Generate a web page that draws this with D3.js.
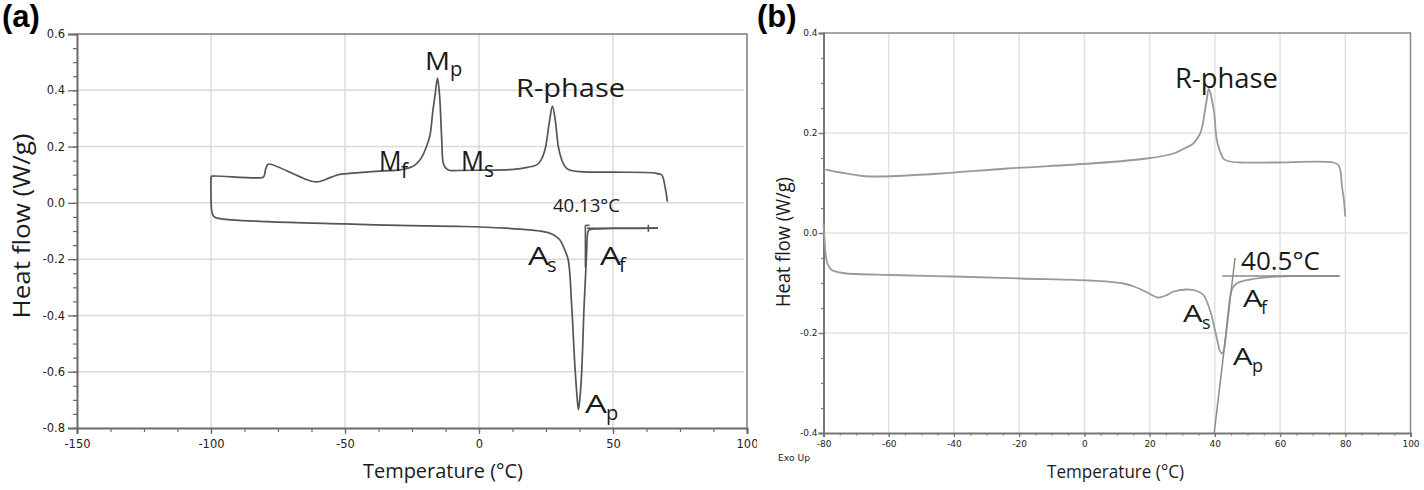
<!DOCTYPE html>
<html><head><meta charset="utf-8">
<script src="https://cdn.jsdelivr.net/npm/d3@7"></script>
<style>body{margin:0;background:#fff;} svg{display:block;}</style>
</head><body><svg id="c" width="1424" height="490"></svg>
<script>
// ---------- DATA ----------
// Panel (a): cooling run (upper curve), from 70 °C down to -100 °C
const aCoolT  = [70.3, 69.4, 68.2, 66.5, 65, 50, 37.7, 33.5, 32.1, 30.8, 29.6, 28.5, 27.4, 26.3, 24.6, 23, 21.5, 18, 12.8, 0.4, -8, -10.8, -12.2, -13.3, -13.9, -14.7, -15.5, -16.3, -17.3, -18.3, -20.1, -21.5, -23.2, -25, -29.5, -37, -51.9, -53.5, -57, -60, -62, -65, -78.3, -79, -79.6, -80.2, -80.8, -99.5, -100];
const aCoolHF = [0.004, 0.058, 0.099, 0.104, 0.107, 0.109, 0.111, 0.118, 0.129, 0.155, 0.2, 0.29, 0.344, 0.29, 0.188, 0.15, 0.135, 0.126, 0.119, 0.116, 0.115, 0.115, 0.122, 0.14, 0.223, 0.38, 0.443, 0.39, 0.32, 0.24, 0.188, 0.16, 0.14, 0.128, 0.117, 0.113, 0.101, 0.097, 0.084, 0.075, 0.076, 0.085, 0.138, 0.134, 0.12, 0.095, 0.09, 0.095, 0.093];
// Panel (a): heating run (lower curve), from -100 °C up to 67 °C
const aHeatT  = [-100, -100, -99.7, -99, -97.3, -79, -50, -30, -6, 10, 19, 24, 26.5, 28.5, 30.2, 32, 33.3, 34.6, 35.8, 36.6, 37.1, 37.6, 38.3, 39.2, 39.8, 40.2, 40.5, 41, 42.7, 50, 66.8];
const aHeatHF = [0.093, 0.02, -0.03, -0.048, -0.055, -0.067, -0.075, -0.08, -0.084, -0.09, -0.096, -0.102, -0.108, -0.118, -0.132, -0.167, -0.203, -0.369, -0.582, -0.69, -0.735, -0.7, -0.605, -0.369, -0.25, -0.167, -0.11, -0.097, -0.093, -0.091, -0.09];
// Panel (a): onset construction (tangent and baseline)
const aTangentT  = [39.7, 39.7];
const aTangentHF = [-0.08, -0.23];
const aBaseT  = [40.3, 66.8];
const aBaseHF = [-0.09, -0.09];

// Panel (b): cooling run (upper curve), from 80 °C down to -80 °C
const bCoolT  = [80, 79.5, 79, 78.5, 77.9, 76.4, 58, 47.8, 44, 42.6, 41.5, 40.6, 39.8, 39.1, 38.6, 38.1, 37.6, 37, 36.2, 35.5, 33.4, 30, 27.3, 19.1, 2, -23.6, -44, -62.5, -68, -74.8, -78, -79.5, -80];
const bCoolHF = [0.033, 0.07, 0.093, 0.125, 0.136, 0.141, 0.141, 0.141, 0.144, 0.149, 0.165, 0.186, 0.24, 0.266, 0.282, 0.288, 0.27, 0.246, 0.215, 0.199, 0.179, 0.167, 0.159, 0.149, 0.139, 0.129, 0.119, 0.113, 0.114, 0.121, 0.125, 0.127, 0.128];
// Panel (b): heating run (lower curve), from -80 °C up to 78 °C
const bHeatT  = [-80, -79.7, -79.3, -78.8, -77.5, -75, -72.9, -59.6, -40.2, -19.7, 1.7, 7, 12, 15.2, 19, 22.5, 25, 27.4, 31.5, 34.5, 36.5, 38.5, 40.5, 41.5, 42.1, 42.6, 43.1, 44.1, 45.2, 46.7, 50.8, 59, 78];
const bHeatHF = [0.02, -0.01, -0.045, -0.061, -0.074, -0.079, -0.081, -0.084, -0.087, -0.091, -0.095, -0.097, -0.101, -0.107, -0.118, -0.129, -0.125, -0.117, -0.113, -0.116, -0.124, -0.154, -0.207, -0.235, -0.241, -0.238, -0.221, -0.161, -0.114, -0.101, -0.093, -0.087, -0.086];
// Panel (b): onset construction
const bTangentT  = [39.8, 46.2];
const bTangentHF = [-0.4, -0.05];
const bBaseT  = [42.3, 78.4];
const bBaseHF = [-0.086, -0.086];

// Tick labels
const aXTicks = [-150, -100, -50, 0, 50, 100];
const aYTicks = [0.6, 0.4, 0.2, 0.0, -0.2, -0.4, -0.6, -0.8];
const bXTicks = [-80, -60, -40, -20, 0, 20, 40, 60, 80, 100];
const bYTicks = [0.4, 0.2, 0.0, -0.2, -0.4];

// ---------- DRAWING ----------
const svg = d3.select('#c');
const FONT = "'Open Sans', 'Noto Sans', sans-serif";
svg.append('defs').append('clipPath').attr('id', 'clipA')
  .append('rect').attr('x', 0).attr('y', 0).attr('width', 757).attr('height', 490);

function zip(t, v) { return t.map((d, i) => [d, v[i]]); }

function panel(cfg) {
  const g = svg.append('g');
  if (cfg.clip) g.attr('clip-path', 'url(#' + cfg.clip + ')');
  const x = d3.scaleLinear().domain(cfg.xDom).range(cfg.xR);
  const y = d3.scaleLinear().domain(cfg.yDom).range(cfg.yR);

  // grid
  g.append('g').selectAll('line').data(cfg.xTicks.filter(d => d > cfg.xDom[0] && d < cfg.xDom[1]))
    .join('line').attr('x1', d => x(d)).attr('x2', d => x(d))
    .attr('y1', cfg.yR[1]).attr('y2', cfg.yR[0])
    .attr('stroke', cfg.gridColor).attr('stroke-width', 1.5);
  g.append('g').selectAll('line').data(cfg.yTicks.filter(d => d > cfg.yDom[0] && d < cfg.yDom[1]))
    .join('line').attr('y1', d => y(d)).attr('y2', d => y(d))
    .attr('x1', cfg.xR[0]).attr('x2', cfg.xR[1] - 3)
    .attr('stroke', cfg.gridColor).attr('stroke-width', 1.5);

  // frame (top, right)
  g.append('path')
    .attr('d', `M${cfg.xR[0]},${cfg.yR[1]}H${cfg.xR[1]}V${cfg.yR[0]}`)
    .attr('fill', 'none').attr('stroke', cfg.frameColor).attr('stroke-width', 1.5);

  // minor ticks
  const xMinor = d3.range(cfg.xDom[0], cfg.xDom[1] + 1e-9, cfg.xMinorStep);
  const yMinor = d3.range(cfg.yDom[0], cfg.yDom[1] + 1e-9, cfg.yMinorStep);
  g.append('g').attr('transform', `translate(0,${cfg.yR[0]})`)
    .call(d3.axisBottom(x).tickValues(xMinor).tickSize(cfg.minorTick).tickFormat(''))
    .call(s => s.select('.domain').remove())
    .selectAll('line').attr('stroke', cfg.axisColor).attr('stroke-width', 1.2);
  g.append('g').attr('transform', `translate(${cfg.xR[0]},0)`)
    .call(d3.axisLeft(y).tickValues(yMinor).tickSize(cfg.minorTick).tickFormat(''))
    .call(s => s.select('.domain').remove())
    .selectAll('line').attr('stroke', cfg.axisColor).attr('stroke-width', 1.2);

  // major axes
  const ax = g.append('g').attr('transform', `translate(0,${cfg.yR[0]})`)
    .call(d3.axisBottom(x).tickValues(cfg.xTicks).tickSize(cfg.majorTickX).tickPadding(cfg.xPad).tickFormat(d3.format('d')));
  const ay = g.append('g').attr('transform', `translate(${cfg.xR[0]},0)`)
    .call(d3.axisLeft(y).tickValues(cfg.yTicks).tickSize(cfg.majorTickY).tickPadding(cfg.yPad).tickFormat(d3.format('.1f')));
  [ax, ay].forEach(a => {
    a.select('.domain').attr('stroke', cfg.axisColor).attr('stroke-width', 2);
    a.selectAll('line').attr('stroke', cfg.axisColor).attr('stroke-width', 1.3);
    a.selectAll('text').attr('font-family', "'DejaVu Sans', sans-serif")
      .attr('font-size', cfg.tickFont).attr('fill', '#222');
  });
  ay.selectAll('text').text(d => d3.format('.1f')(d).replace('−', '-'));
  ax.selectAll('text').text(d => String(d));

  // curves
  const line = d3.line().x(d => x(d[0])).y(d => y(d[1])).curve(d3.curveCatmullRom.alpha(0.5));
  const straight = d3.line().x(d => x(d[0])).y(d => y(d[1]));
  cfg.curves.forEach(c => {
    g.append('path').datum(c).attr('d', line)
      .attr('fill', 'none').attr('stroke', cfg.curveColor).attr('stroke-width', cfg.curveWidth)
      .attr('stroke-linejoin', 'round');
  });
  cfg.guides.forEach(c => {
    g.append('path').datum(c).attr('d', straight)
      .attr('fill', 'none').attr('stroke', cfg.guideColor).attr('stroke-width', cfg.guideWidth);
  });
  return { g, x, y };
}

function txt(g, x, y, s, size, opts = {}) {
  const t = g.append('text').attr('x', x).attr('y', y).text(s)
    .attr('font-family', opts.family || FONT).attr('font-size', size)
    .attr('fill', opts.fill || '#1a1a1a');
  if (opts.weight) t.attr('font-weight', opts.weight);
  if (opts.anchor) t.attr('text-anchor', opts.anchor);
  if (opts.len) t.attr('textLength', opts.len).attr('lengthAdjust', 'spacingAndGlyphs');
  if (opts.rotate) t.attr('transform', `rotate(-90,${x},${y})`);
  return t;
}
function sub(g, x, y, main, s, size, subSize, sx, sy, mainLen) {
  txt(g, x, y, main, size, mainLen ? { len: mainLen } : {});
  txt(g, sx, sy, s, subSize);
}

// Panel (a)
const A = panel({
  clip: 'clipA',
  xDom: [-150, 100], xR: [77, 747], yDom: [-0.8, 0.6], yR: [428, 34],
  xTicks: aXTicks, yTicks: aYTicks, xMinorStep: 12.5, yMinorStep: 0.05,
  minorTick: 4, majorTickX: 6, majorTickY: 9, xPad: 6, yPad: 3, tickFont: 11.5,
  gridColor: '#dadada', frameColor: '#7a7a7a', axisColor: '#6a6a6a',
  curveColor: '#555', curveWidth: 1.7, guideColor: '#555', guideWidth: 1.6,
  curves: [zip(aCoolT, aCoolHF), zip(aHeatT, aHeatHF)],
  guides: [zip(aTangentT, aTangentHF), zip(aBaseT, aBaseHF),
           [[39.7, -0.08], [41.3, -0.08]], [[63.2, -0.078], [63.2, -0.103]]]
});
const ga = A.g;
sub(ga, 425, 70, 'M', 'p', 26, 20, 450, 76, 25);
txt(ga, 516, 97, 'R-phase', 26, { len: 109 });
sub(ga, 379, 171, 'M', 'f', 27, 21, 401, 178, 22.5);
sub(ga, 461, 171, 'M', 's', 27, 21, 484, 177, 23);
txt(ga, 553, 212, '40.13°C', 19, { len: 67 });
sub(ga, 528, 265, 'A', 's', 26, 20, 547, 272, 21);
sub(ga, 600, 265, 'A', 'f', 26, 20, 619, 272, 21);
sub(ga, 585, 413, 'A', 'p', 26, 20, 606, 420, 22);
txt(ga, 363, 478, 'Temperature (°C)', 20, { len: 160 });
txt(ga, 30, 226, 'Heat flow (W/g)', 24, { len: 185, anchor: 'middle', rotate: true });
txt(ga, 2, 27, '(a)', 31, { family: "'Liberation Sans', Arial, sans-serif", weight: 'bold', fill: '#000' });

// Panel (b)
const B = panel({
  xDom: [-80, 100], xR: [823.5, 1410.5], yDom: [-0.4, 0.4], yR: [433, 33],
  xTicks: bXTicks, yTicks: bYTicks, xMinorStep: 5, yMinorStep: 0.05,
  minorTick: 2.5, majorTickX: 4, majorTickY: 5, xPad: 4, yPad: 1, tickFont: 9,
  gridColor: '#e2e2e2', frameColor: '#8a8a8a', axisColor: '#777',
  curveColor: '#9a9a9a', curveWidth: 1.8, guideColor: '#8a8a8a', guideWidth: 1.5,
  curves: [zip(bCoolT, bCoolHF), zip(bHeatT, bHeatHF)],
  guides: [zip(bTangentT, bTangentHF), zip(bBaseT, bBaseHF)]
});
const gb = B.g;
txt(gb, 1175, 88, 'R-phase', 27, { len: 103 });
txt(gb, 1241, 270, '40.5°C', 26, { len: 79 });
sub(gb, 1243, 307, 'A', 'f', 24, 18, 1261, 314, 19.5);
sub(gb, 1183, 322, 'A', 's', 24, 18, 1202, 329, 19.5);
sub(gb, 1233, 365, 'A', 'p', 24, 18, 1252, 372, 19.5);
txt(gb, 1047, 478, 'Temperature (°C)', 17.5, { len: 137 });
txt(gb, 790, 242, 'Heat flow (W/g)', 20, { len: 130, anchor: 'middle', rotate: true });
txt(gb, 778, 461, 'Exo Up', 9.5, { family: "'DejaVu Sans', sans-serif", len: 32 });
txt(gb, 757, 27, '(b)', 31, { family: "'Liberation Sans', Arial, sans-serif", weight: 'bold', fill: '#000' });
</script></body></html>
